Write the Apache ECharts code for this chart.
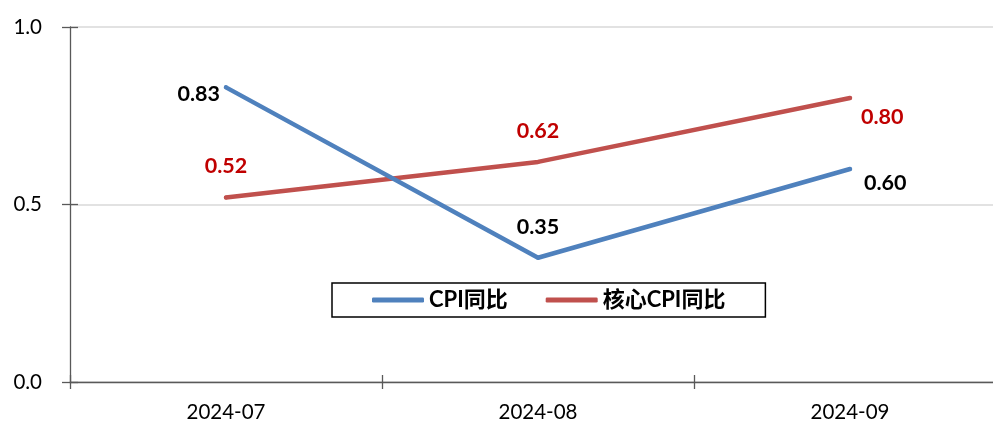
<!DOCTYPE html>
<html>
<head>
<meta charset="utf-8">
<script src="https://cdn.jsdelivr.net/npm/echarts@6/dist/echarts.min.js"></script>
<style>html,body{margin:0;padding:0;background:#fff;overflow:hidden;width:993px;height:423px}#c{width:1006px;height:423px}</style>
</head>
<body>
<div id="c"></div>
<script>
var categories = ['2024-07', '2024-08', '2024-09'];
var cpiYoY = [0.83, 0.35, 0.60];
var coreCpiYoY = [0.52, 0.62, 0.80];
var seriesNames = ['CPI同比', '核心CPI同比'];
var yTicks = [0, 0.5, 1.0];

var FONT = "Lato, 'Noto Sans CJK SC', sans-serif";
var chart = echarts.init(document.getElementById('c'), null, {renderer: 'canvas'});

var cpiLabels = [
  {position: 'left', distance: 4, offset: [0, 7]},
  {position: 'top', distance: 18},
  {position: 'right', distance: 12, offset: [0, 14]}
];
var coreLabels = [
  {position: 'top', distance: 19},
  {position: 'top', distance: 18},
  {position: 'right', distance: 9, offset: [0, 19]}
];
function build(vals, labs) {
  return vals.map(function (v, i) { return {value: v, label: labs[i]}; });
}

var grid = {left: 70, top: 27, right: 0, bottom: 41};
var axisLineStyle = {color: '#595959', width: 1.3};

chart.setOption({
  animation: false,
  backgroundColor: '#fff',
  grid: grid,
  legend: {
    left: 332, top: 283,
    padding: [6, 40, 6, 40],
    itemGap: 38,
    itemWidth: 52, itemHeight: 5,
    icon: 'roundRect',
    borderColor: '#000', borderWidth: 1.5,
    textStyle: {fontFamily: FONT, fontSize: 22, fontWeight: 'bold', color: '#000'},
    data: seriesNames
  },
  xAxis: [{
    type: 'category', data: categories, boundaryGap: true,
    axisLine: {lineStyle: axisLineStyle},
    axisTick: {show: true, length: 7, lineStyle: axisLineStyle},
    axisLabel: {fontFamily: FONT, fontSize: 20.5, color: '#000', margin: 20}
  }, {
    type: 'category', data: categories, boundaryGap: true, position: 'bottom',
    axisLine: {show: false},
    axisTick: {show: true, inside: true, length: 7, lineStyle: axisLineStyle},
    axisLabel: {show: false}
  }],
  yAxis: [{
    type: 'value', min: 0, max: 1, interval: 0.5,
    axisLine: {show: true, lineStyle: axisLineStyle},
    axisTick: {show: true, length: 8, lineStyle: axisLineStyle},
    axisLabel: {fontFamily: FONT, fontSize: 20.5, color: '#000', margin: 28,
      formatter: function (v) { return v.toFixed(1); }},
    splitLine: {show: true, lineStyle: {color: '#d9d9d9', width: 1.5}}
  }, {
    type: 'value', min: 0, max: 1, interval: 0.5, position: 'left',
    axisLine: {show: false},
    axisTick: {show: true, inside: true, length: 8, lineStyle: axisLineStyle},
    axisLabel: {show: false},
    splitLine: {show: false}
  }],
  series: [{
    name: seriesNames[0], type: 'line', data: build(cpiYoY, cpiLabels),
    symbol: 'circle', symbolSize: 4, showSymbol: true,
    lineStyle: {color: '#4F81BD', width: 4.5, cap: 'round'},
    itemStyle: {color: '#4F81BD'},
    label: {show: true, fontFamily: FONT, fontSize: 21.5, fontWeight: 'bold', color: '#000',
      formatter: function (p) { return p.value.toFixed(2); }},
    z: 3
  }, {
    name: seriesNames[1], type: 'line', data: build(coreCpiYoY, coreLabels),
    symbol: 'circle', symbolSize: 4, showSymbol: true,
    lineStyle: {color: '#C0504D', width: 4.5, cap: 'round'},
    itemStyle: {color: '#C0504D'},
    label: {show: true, fontFamily: FONT, fontSize: 21.5, fontWeight: 'bold', color: '#C00000',
      formatter: function (p) { return p.value.toFixed(2); }},
    z: 2
  }]
});
</script>
</body>
</html>
